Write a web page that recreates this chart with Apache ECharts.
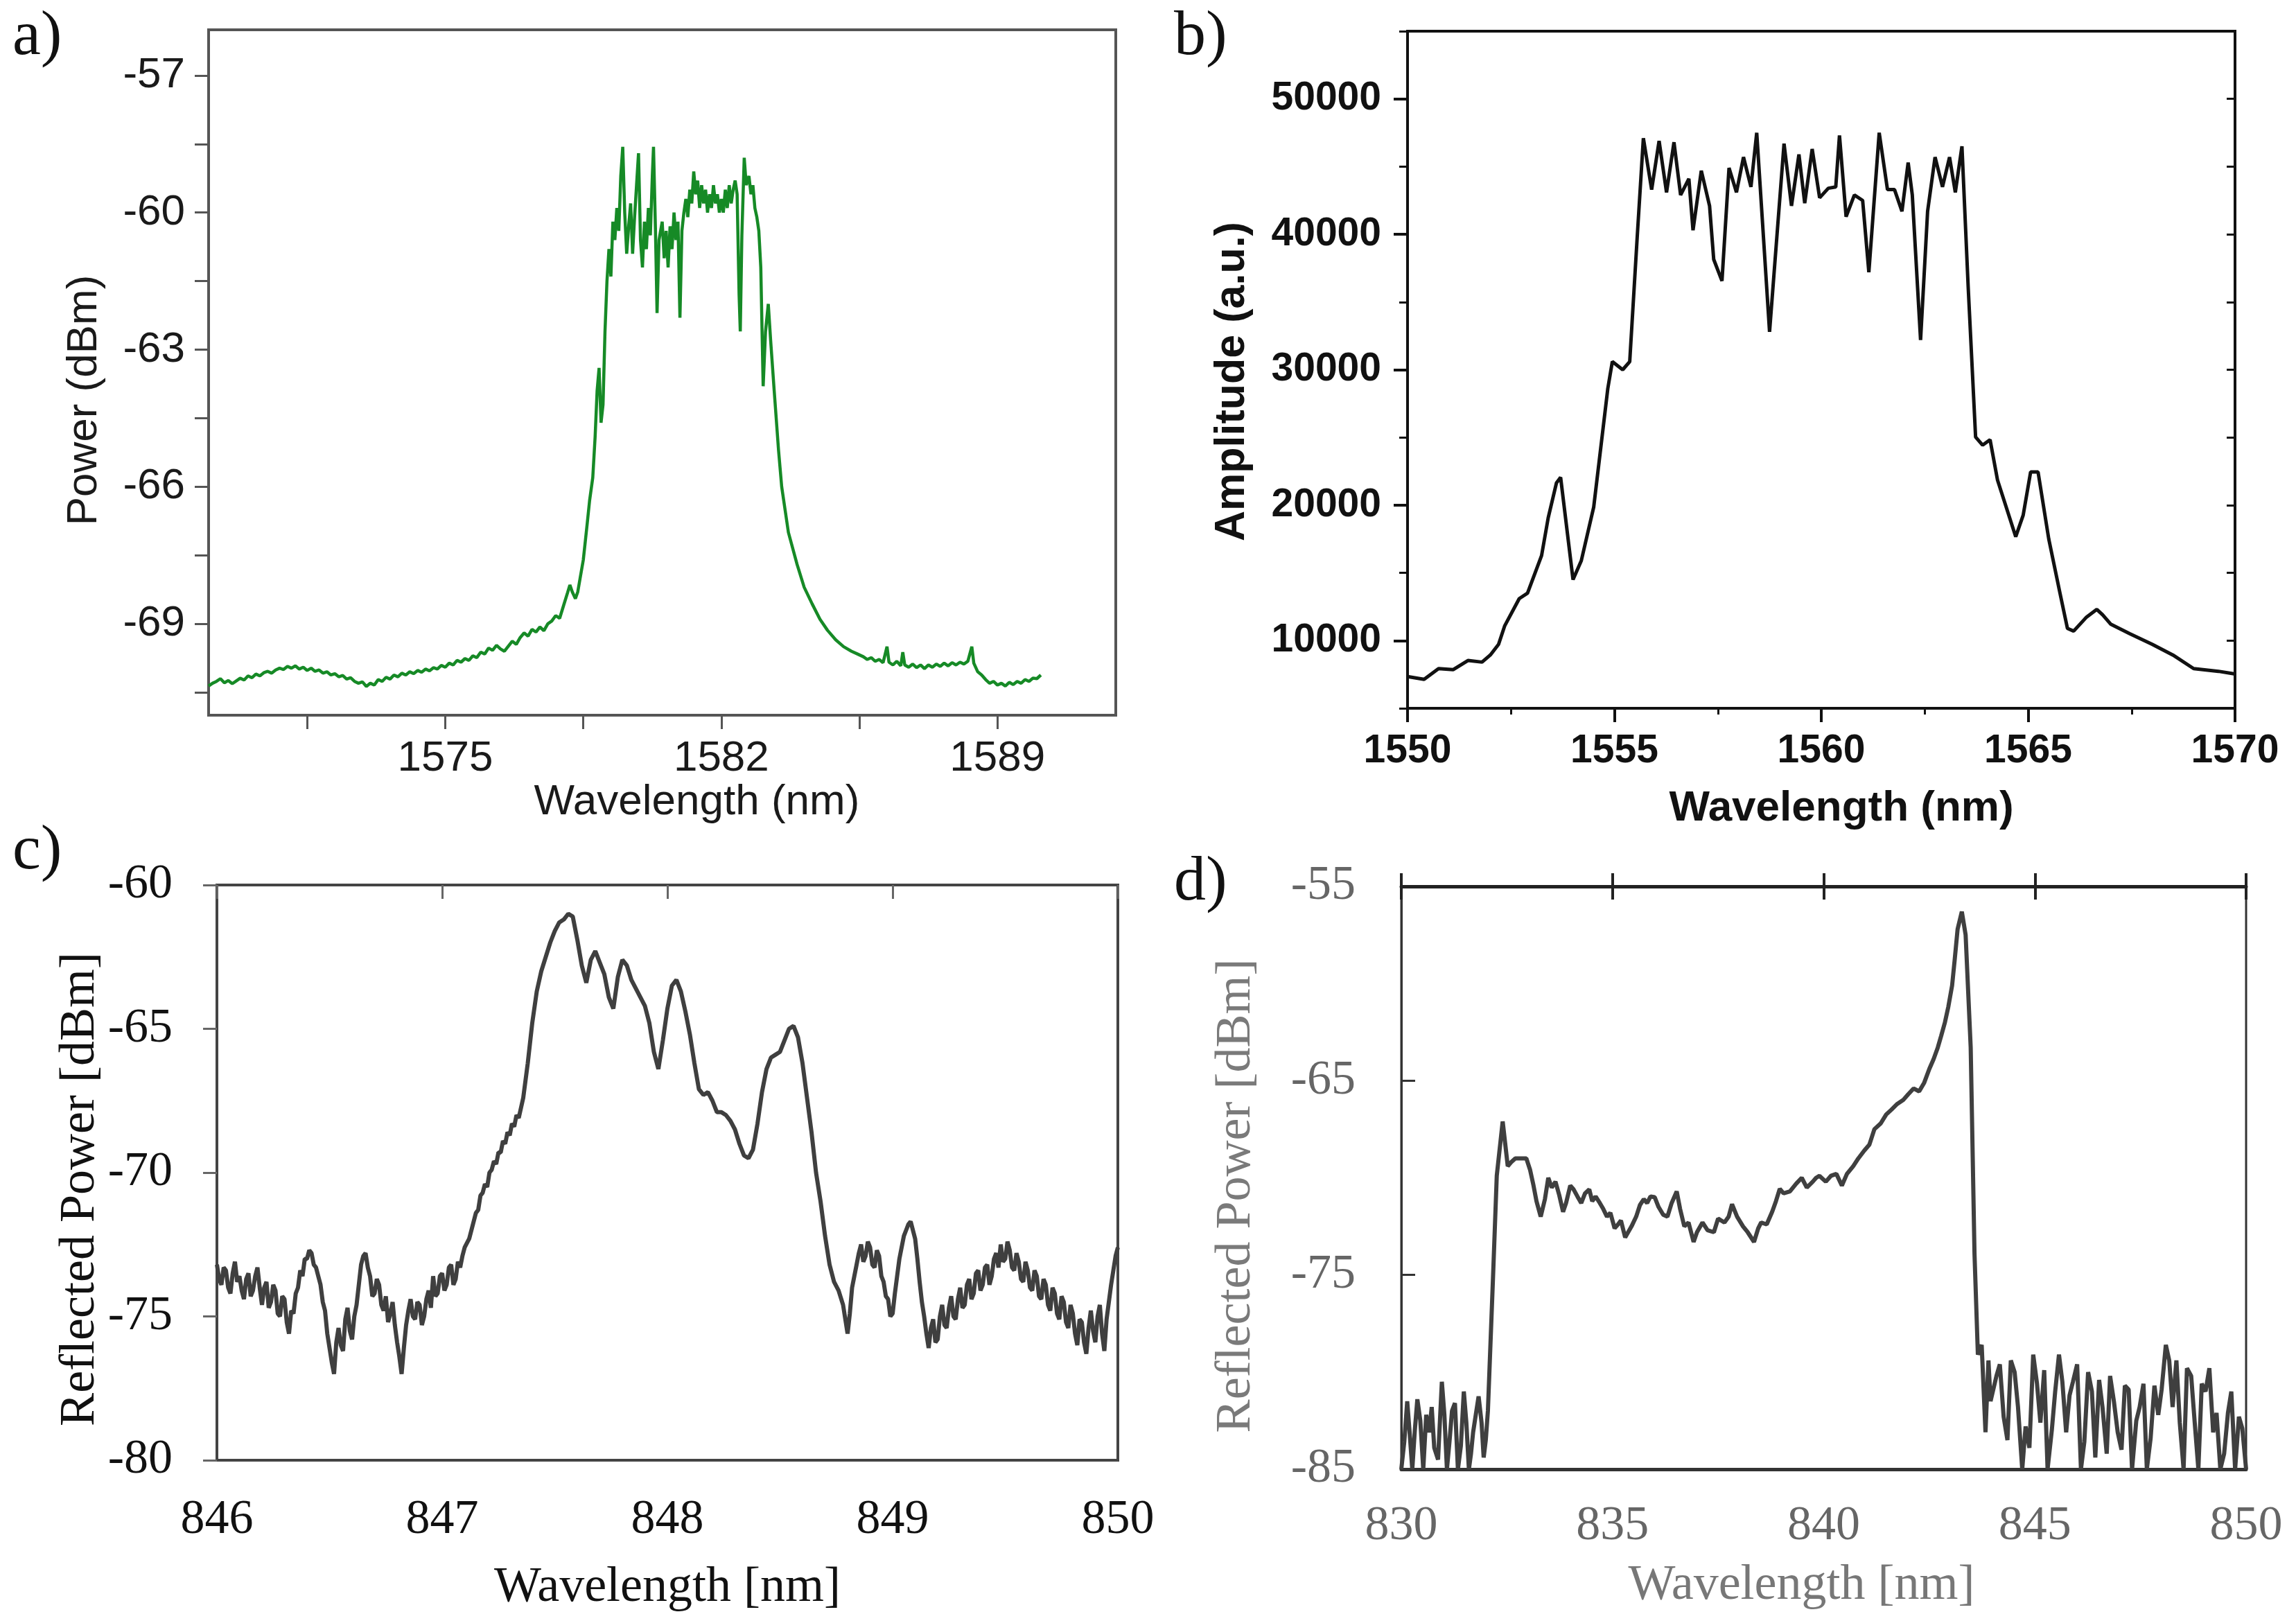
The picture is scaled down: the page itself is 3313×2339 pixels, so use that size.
<!DOCTYPE html>
<html><head><meta charset="utf-8">
<script src="https://cdn.jsdelivr.net/npm/echarts@6/dist/echarts.min.js"></script>
<style>html,body{margin:0;padding:0;background:#fff}#c{width:3313px;height:2339px}</style>
</head><body><div id="c"></div>
<script>
// ---------- Panel a ----------
const aTicksX = [1571.5, 1575, 1578.5, 1582, 1585.5, 1589];
const aLabelsX = [1575, 1582, 1589];
const aTicksY = [-70.5, -69, -67.5, -66, -64.5, -63, -61.5, -60, -58.5, -57];
const aLabelsY = [-69, -66, -63, -60, -57];
const spectrumA = [
[1569.0,-70.36],[1569.1,-70.30],[1569.2,-70.26],[1569.3,-70.20],[1569.4,-70.29],[1569.5,-70.24],[1569.6,-70.31],[1569.7,-70.25],[1569.8,-70.19],[1569.9,-70.23],
[1570.0,-70.14],[1570.1,-70.18],[1570.2,-70.10],[1570.3,-70.14],[1570.4,-70.07],[1570.5,-70.04],[1570.6,-70.08],[1570.7,-70.01],[1570.8,-69.97],[1570.9,-70.00],
[1571.0,-69.93],[1571.1,-69.97],[1571.2,-69.92],[1571.3,-69.99],[1571.4,-69.95],[1571.5,-70.02],[1571.6,-69.97],[1571.7,-70.04],[1571.8,-70.01],[1571.9,-70.08],
[1572.0,-70.05],[1572.1,-70.12],[1572.2,-70.09],[1572.3,-70.16],[1572.4,-70.13],[1572.5,-70.21],[1572.6,-70.18],[1572.7,-70.26],[1572.8,-70.30],[1572.9,-70.27],
[1573.0,-70.37],[1573.1,-70.30],[1573.2,-70.34],[1573.3,-70.22],[1573.4,-70.26],[1573.5,-70.17],[1573.6,-70.21],[1573.7,-70.12],[1573.8,-70.16],[1573.9,-70.08],
[1574.0,-70.12],[1574.1,-70.05],[1574.2,-70.09],[1574.3,-70.02],[1574.4,-70.06],[1574.5,-69.99],[1574.6,-70.03],[1574.7,-69.96],[1574.8,-69.99],[1574.9,-69.91],
[1575.0,-69.95],[1575.1,-69.86],[1575.2,-69.90],[1575.3,-69.80],[1575.4,-69.84],[1575.5,-69.76],[1575.6,-69.80],[1575.7,-69.70],[1575.8,-69.74],[1575.9,-69.62],
[1576.0,-69.66],[1576.1,-69.53],[1576.2,-69.58],[1576.3,-69.47],[1576.4,-69.55],[1576.5,-69.60],[1576.6,-69.49],[1576.7,-69.38],[1576.8,-69.45],[1576.9,-69.30],
[1577.0,-69.20],[1577.1,-69.27],[1577.2,-69.12],[1577.3,-69.18],[1577.4,-69.07],[1577.5,-69.15],[1577.6,-69.00],[1577.7,-68.94],[1577.8,-68.82],[1577.9,-68.88],
[1578.0,-68.60],[1578.1,-68.32],[1578.16,-68.15],[1578.22,-68.30],[1578.3,-68.45],[1578.36,-68.30],[1578.42,-68.00],[1578.5,-67.60],[1578.55,-67.20],[1578.6,-66.80],
[1578.66,-66.30],[1578.74,-65.80],[1578.8,-64.90],[1578.85,-63.90],[1578.9,-63.40],[1578.95,-64.60],[1579.0,-64.20],[1579.05,-62.60],[1579.1,-61.50],[1579.15,-60.80],
[1579.2,-61.40],[1579.25,-60.20],[1579.3,-60.60],[1579.35,-59.90],[1579.4,-60.40],[1579.45,-59.20],[1579.5,-58.56],[1579.55,-60.00],[1579.6,-60.90],[1579.65,-60.30],
[1579.7,-59.80],[1579.75,-60.90],[1579.8,-60.10],[1579.85,-59.40],[1579.9,-58.70],[1579.95,-60.60],[1580.0,-61.20],[1580.05,-60.20],[1580.1,-60.80],[1580.15,-59.90],
[1580.2,-60.50],[1580.25,-59.20],[1580.28,-58.56],[1580.33,-60.40],[1580.37,-62.20],[1580.42,-60.60],[1580.5,-60.20],[1580.55,-61.00],[1580.6,-60.40],[1580.65,-61.20],
[1580.7,-60.30],[1580.75,-60.80],[1580.8,-60.00],[1580.85,-60.60],[1580.9,-60.20],[1580.95,-62.30],[1581.0,-60.40],[1581.05,-60.00],[1581.1,-59.70],[1581.15,-60.10],
[1581.2,-59.50],[1581.25,-59.80],[1581.3,-59.10],[1581.35,-59.60],[1581.4,-59.30],[1581.45,-59.90],[1581.5,-59.40],[1581.55,-59.80],[1581.6,-59.50],[1581.65,-60.00],
[1581.7,-59.60],[1581.75,-59.90],[1581.8,-59.40],[1581.85,-59.80],[1581.9,-59.60],[1581.95,-60.00],[1582.0,-59.70],[1582.05,-60.00],[1582.1,-59.50],[1582.15,-59.90],
[1582.2,-59.40],[1582.25,-59.80],[1582.3,-59.50],[1582.35,-59.30],[1582.4,-59.60],[1582.45,-61.80],[1582.48,-62.60],[1582.52,-60.50],[1582.58,-58.80],[1582.63,-59.40],
[1582.7,-59.20],[1582.75,-59.60],[1582.8,-59.40],[1582.85,-59.90],[1582.9,-60.10],[1582.95,-60.40],[1583.0,-61.20],[1583.06,-63.80],[1583.12,-62.60],[1583.19,-62.00],
[1583.25,-62.80],[1583.34,-63.90],[1583.45,-65.20],[1583.53,-66.00],[1583.7,-67.00],[1583.92,-67.70],[1584.1,-68.20],[1584.3,-68.56],[1584.5,-68.90],[1584.69,-69.14],
[1584.9,-69.35],[1585.1,-69.50],[1585.3,-69.60],[1585.45,-69.66],[1585.6,-69.72],[1585.7,-69.78],[1585.8,-69.74],[1585.9,-69.82],[1586.0,-69.78],[1586.1,-69.85],
[1586.2,-69.50],[1586.25,-69.84],[1586.35,-69.90],[1586.45,-69.82],[1586.55,-69.92],[1586.6,-69.62],[1586.65,-69.90],[1586.75,-69.95],[1586.85,-69.88],[1586.95,-69.96],
[1587.05,-69.90],[1587.15,-69.98],[1587.25,-69.90],[1587.35,-69.95],[1587.45,-69.88],[1587.55,-69.93],[1587.65,-69.86],[1587.75,-69.92],[1587.85,-69.85],[1587.95,-69.90],
[1588.05,-69.84],[1588.15,-69.88],[1588.25,-69.82],[1588.35,-69.50],[1588.4,-69.86],[1588.5,-70.05],[1588.6,-70.12],[1588.7,-70.22],[1588.8,-70.30],[1588.9,-70.26],
[1589.0,-70.34],[1589.1,-70.30],[1589.2,-70.36],[1589.3,-70.28],[1589.4,-70.33],[1589.5,-70.26],[1589.6,-70.30],[1589.7,-70.22],[1589.8,-70.26],[1589.9,-70.19],
[1590.0,-70.20],[1590.1,-70.12]
];

// ---------- Panel b ----------
const bLabelsY = [10000, 20000, 30000, 40000, 50000];
const spectrumB = [
[1550.0,7340],[1550.4,7140],[1550.75,7930],[1551.1,7850],[1551.46,8530],[1551.8,8410],[1552.0,8930],[1552.2,9720],[1552.35,11100],[1552.7,13100],
[1552.9,13500],[1553.24,16280],[1553.4,19070],[1553.6,21650],[1553.7,22050],[1554.0,14500],[1554.2,15900],[1554.5,19860],[1554.84,28600],[1554.95,30600],
[1555.2,30000],[1555.37,30600],[1555.55,39740],[1555.7,47100],[1555.9,43300],[1556.08,46900],[1556.26,43100],[1556.44,46800],[1556.6,42900],[1556.8,44100],
[1556.9,40300],[1557.1,44700],[1557.3,42100],[1557.4,38150],[1557.6,36560],[1557.77,44900],[1557.95,43100],[1558.12,45700],[1558.3,43500],[1558.44,47500],
[1558.75,32800],[1559.1,46700],[1559.28,42100],[1559.46,45900],[1559.6,42300],[1559.78,46300],[1559.96,42700],[1560.17,43400],[1560.35,43500],[1560.44,47300],
[1560.6,41300],[1560.8,42900],[1561.0,42500],[1561.15,37200],[1561.4,47500],[1561.6,43300],[1561.77,43300],[1561.95,41700],[1562.1,45300],[1562.2,42900],
[1562.4,32200],[1562.57,41700],[1562.75,45700],[1562.93,43500],[1563.1,45700],[1563.24,43100],[1563.4,46500],[1563.55,36160],[1563.73,25030],[1563.9,24430],
[1564.08,24830],[1564.26,21850],[1564.7,17670],[1564.88,19260],[1565.06,22450],[1565.24,22450],[1565.5,17470],[1565.77,13500],[1565.95,10900],[1566.1,10700],
[1566.4,11700],[1566.66,12300],[1566.8,11900],[1567.0,11200],[1567.46,10500],[1568.0,9720],[1568.5,8930],[1569.0,7930],[1569.6,7730],[1570.0,7530]
];

// ---------- Panel c ----------
const spectrumC = [
[846.00,-73.2],[846.01,-73.7],[846.02,-73.9],[846.03,-73.3],[846.04,-73.4],[846.05,-74.0],[846.06,-74.2],[846.07,-73.5],[846.08,-73.1],[846.09,-73.8],
[846.10,-73.6],[846.11,-74.1],[846.12,-74.4],[846.13,-73.7],[846.14,-73.5],[846.15,-74.3],[846.16,-74.1],[846.17,-73.6],[846.18,-73.3],[846.19,-74.0],
[846.20,-74.6],[846.21,-74.0],[846.22,-73.8],[846.23,-74.7],[846.24,-74.5],[846.25,-73.9],[846.26,-74.1],[846.27,-74.9],[846.28,-75.0],[846.29,-74.3],
[846.30,-74.4],[846.31,-75.2],[846.32,-75.6],[846.33,-74.8],[846.34,-74.9],[846.35,-74.2],[846.36,-74.0],[846.37,-73.4],[846.38,-73.6],[846.39,-73.0],
[846.40,-73.0],[846.41,-72.7],[846.42,-72.8],[846.43,-73.2],[846.44,-73.3],[846.45,-73.6],[846.46,-73.9],[846.47,-74.5],[846.48,-74.8],[846.49,-75.6],
[846.50,-76.1],[846.51,-76.6],[846.52,-77.0],[846.53,-75.9],[846.54,-75.4],[846.55,-76.0],[846.56,-76.2],[846.57,-75.1],[846.58,-74.7],[846.59,-75.5],
[846.60,-75.8],[846.61,-75.0],[846.62,-74.6],[846.63,-73.9],[846.64,-73.2],[846.65,-72.9],[846.66,-72.8],[846.67,-73.3],[846.68,-73.6],[846.69,-74.3],
[846.70,-74.2],[846.71,-73.7],[846.72,-73.9],[846.73,-74.6],[846.74,-74.8],[846.75,-74.3],[846.76,-75.2],[846.77,-74.9],[846.78,-74.5],[846.79,-75.3],
[846.80,-75.9],[846.81,-76.4],[846.82,-77.0],[846.83,-76.1],[846.84,-75.3],[846.85,-74.8],[846.86,-74.4],[846.87,-75.0],[846.88,-75.1],[846.89,-74.5],
[846.90,-74.6],[846.91,-75.3],[846.92,-75.0],[846.93,-74.4],[846.94,-74.1],[846.95,-74.7],[846.96,-73.6],[846.97,-74.3],[846.98,-74.2],[846.99,-73.6],
[847.00,-73.5],[847.01,-74.1],[847.02,-73.9],[847.03,-73.3],[847.04,-73.2],[847.05,-73.9],[847.06,-73.7],[847.07,-73.1],[847.08,-73.3],[847.09,-72.9],
[847.10,-72.6],[847.12,-72.3],[847.13,-72.0],[847.14,-71.7],[847.15,-71.4],[847.16,-71.3],[847.17,-70.8],[847.18,-70.7],[847.19,-70.4],[847.20,-70.5],
[847.21,-70.0],[847.22,-69.9],[847.23,-69.6],[847.24,-69.7],[847.25,-69.3],[847.26,-69.3],[847.27,-68.9],[847.28,-69.0],[847.29,-68.6],[847.30,-68.7],
[847.31,-68.3],[847.32,-68.4],[847.33,-68.0],[847.34,-68.1],[847.36,-67.4],[847.38,-66.2],
[847.40,-64.8],[847.42,-63.7],[847.44,-63.0],[847.46,-62.5],[847.48,-62.0],[847.50,-61.6],[847.52,-61.3],[847.54,-61.2],[847.56,-61.0],[847.58,-61.1],
[847.60,-61.9],[847.62,-62.8],[847.64,-63.4],[847.66,-62.6],[847.68,-62.3],[847.70,-62.7],[847.72,-63.1],[847.74,-63.9],[847.76,-64.3],[847.78,-63.2],
[847.80,-62.6],[847.82,-62.8],[847.84,-63.3],[847.86,-63.6],[847.88,-63.9],[847.90,-64.2],[847.92,-64.8],[847.94,-65.8],[847.96,-66.4],[847.98,-65.4],
[848.00,-64.3],[848.02,-63.5],[848.04,-63.3],[848.06,-63.7],[848.08,-64.4],[848.10,-65.2],[848.12,-66.2],[848.14,-67.1],[848.16,-67.3],[848.18,-67.2],
[848.20,-67.5],[848.22,-67.9],[848.24,-67.9],[848.26,-68.0],[848.28,-68.2],[848.30,-68.5],[848.32,-69.0],[848.34,-69.4],[848.36,-69.5],[848.38,-69.2],
[848.40,-68.3],[848.42,-67.2],[848.44,-66.4],[848.46,-66.0],[848.48,-65.9],[848.50,-65.8],[848.52,-65.4],[848.54,-65.0],[848.56,-64.9],[848.58,-65.3],
[848.60,-66.2],[848.62,-67.4],[848.64,-68.6],[848.66,-70.0],[848.68,-71.0],[848.70,-72.2],[848.72,-73.2],[848.74,-73.8],[848.76,-74.1],[848.78,-74.6],
[848.80,-75.6],[848.81,-74.9],[848.82,-74.0],[848.83,-73.6],[848.84,-73.2],[848.85,-72.8],[848.86,-72.5],[848.87,-73.1],[848.88,-72.9],[848.89,-72.4],
[848.90,-72.6],[848.91,-73.2],[848.92,-73.3],[848.93,-72.7],[848.94,-72.9],[848.95,-73.6],[848.96,-73.8],[848.97,-74.3],[848.98,-74.4],[848.99,-75.0],
[849.00,-74.9],[849.01,-74.2],[849.02,-73.6],[849.03,-73.0],[849.04,-72.6],[849.05,-72.2],[849.06,-72.0],[849.07,-71.8],[849.08,-71.7],[849.09,-72.0],
[849.10,-72.3],[849.11,-73.0],[849.12,-73.8],[849.13,-74.5],[849.14,-75.0],[849.15,-75.6],[849.16,-76.1],[849.17,-75.4],[849.18,-75.1],[849.19,-75.9],
[849.20,-75.8],[849.21,-75.0],[849.22,-74.6],[849.23,-75.3],[849.24,-75.4],[849.25,-74.7],[849.26,-74.3],[849.27,-75.0],[849.28,-75.1],[849.29,-74.4],
[849.30,-74.0],[849.31,-74.7],[849.32,-74.6],[849.33,-73.9],[849.34,-73.7],[849.35,-74.4],[849.36,-74.2],[849.37,-73.5],[849.38,-73.4],[849.39,-74.1],
[849.40,-73.9],[849.41,-73.3],[849.42,-73.2],[849.43,-73.9],[849.44,-73.6],[849.45,-73.0],[849.46,-72.8],[849.47,-73.3],[849.48,-72.5],[849.49,-73.1],
[849.50,-73.0],[849.51,-72.4],[849.52,-72.7],[849.53,-73.3],[849.54,-73.4],[849.55,-72.8],[849.56,-73.1],[849.57,-73.7],[849.58,-73.8],[849.59,-73.1],
[849.60,-73.4],[849.61,-74.0],[849.62,-74.1],[849.63,-73.4],[849.64,-73.6],[849.65,-74.3],[849.66,-74.4],[849.67,-73.7],[849.68,-73.9],[849.69,-74.6],
[849.70,-74.8],[849.71,-74.0],[849.72,-74.2],[849.73,-74.9],[849.74,-75.1],[849.75,-74.3],[849.76,-74.5],[849.77,-75.2],[849.78,-75.4],[849.79,-74.6],
[849.80,-74.9],[849.81,-75.6],[849.82,-76.0],[849.83,-75.1],[849.84,-75.2],[849.85,-75.9],[849.86,-76.3],[849.87,-75.4],[849.88,-74.8],[849.89,-75.5],
[849.90,-75.9],[849.91,-75.0],[849.92,-74.6],[849.93,-75.6],[849.94,-76.2],[849.95,-75.1],[849.96,-74.5],[849.97,-73.9],[849.98,-73.4],[849.99,-72.9],
[850.00,-72.6]
];

// ---------- Panel d ----------
const dLabelsY = [-85, -75, -65, -55];
const dTicksY = [-75, -65];
const spectrumD = [
[830.0,-85],[830.07,-83.6],[830.14,-81.5],[830.2,-83.2],[830.26,-85],[830.32,-83.0],[830.38,-81.4],[830.45,-82.5],[830.52,-85],[830.59,-82.2],
[830.66,-83.1],[830.72,-81.8],[830.78,-83.9],[830.87,-84.5],[830.96,-80.5],[831.02,-82.2],[831.08,-85],[831.14,-83.6],[831.2,-82.0],[831.27,-81.6],
[831.34,-85],[831.41,-83.8],[831.48,-81.0],[831.54,-82.6],[831.6,-85],[831.65,-84.2],[831.7,-83.1],[831.77,-82.1],[831.83,-81.25],[831.9,-82.6],
[831.95,-84.4],[832.0,-83.5],[832.05,-82.0],[832.17,-75.2],[832.26,-69.9],[832.4,-67.1],[832.52,-69.4],[832.6,-69.2],[832.7,-69.0],[832.96,-69.0],
[833.05,-69.6],[833.13,-70.4],[833.2,-71.2],[833.3,-72.0],[833.4,-71.1],[833.48,-70.0],[833.56,-70.5],[833.65,-70.2],[833.74,-70.9],[833.83,-71.75],
[833.9,-71.3],[834.0,-70.4],[834.08,-70.6],[834.17,-70.96],[834.26,-71.3],[834.35,-70.8],[834.45,-70.6],[834.52,-71.2],[834.6,-70.96],[834.7,-71.3],
[834.78,-71.6],[834.87,-72.0],[834.95,-71.8],[835.05,-72.6],[835.13,-72.4],[835.2,-72.2],[835.3,-73.07],[835.45,-72.5],[835.56,-72.0],[835.65,-71.4],
[835.74,-71.1],[835.82,-71.3],[835.9,-70.96],[836.0,-71.0],[836.09,-71.5],[836.2,-71.9],[836.3,-72.0],[836.4,-71.3],[836.52,-70.7],[836.6,-71.6],
[836.7,-72.5],[836.8,-72.3],[836.92,-73.3],[837.0,-72.8],[837.13,-72.3],[837.25,-72.7],[837.4,-72.8],[837.5,-72.1],[837.65,-72.3],[837.75,-72.0],
[837.83,-71.36],[837.95,-72.0],[838.09,-72.5],[838.2,-72.8],[838.35,-73.3],[838.45,-72.6],[838.52,-72.3],[838.65,-72.4],[838.78,-71.75],[838.87,-71.2],
[838.96,-70.57],[839.05,-70.8],[839.2,-70.7],[839.35,-70.3],[839.48,-70.0],[839.6,-70.5],[839.74,-70.2],[839.82,-70.0],[839.9,-69.9],[840.05,-70.2],
[840.17,-69.9],[840.3,-69.8],[840.43,-70.4],[840.55,-69.8],[840.7,-69.4],[840.82,-69.0],[840.96,-68.6],[841.08,-68.3],[841.2,-67.5],[841.35,-67.2],
[841.48,-66.74],[841.6,-66.5],[841.74,-66.2],[841.88,-66.0],[842.0,-65.7],[842.13,-65.4],[842.26,-65.55],[842.38,-65.1],[842.5,-64.4],[842.6,-63.9],
[842.7,-63.3],[842.78,-62.7],[842.87,-62.0],[842.95,-61.2],[843.04,-60.1],[843.1,-58.8],[843.17,-57.2],[843.27,-56.3],[843.36,-57.5],[843.48,-63.3],
[843.57,-73.9],[843.65,-79.1],[843.74,-78.6],[843.83,-83.1],[843.9,-79.4],[843.95,-81.5],[844.09,-80.2],[844.17,-79.6],[844.26,-82.3],[844.35,-83.5],
[844.43,-79.4],[844.52,-80.0],[844.6,-81.8],[844.7,-85],[844.78,-82.8],[844.87,-83.9],[844.96,-79.1],[845.05,-80.6],[845.13,-82.6],[845.22,-79.9],
[845.3,-85],[845.4,-83.0],[845.48,-81.0],[845.57,-79.1],[845.65,-80.5],[845.74,-83.1],[845.82,-81.2],[845.9,-80.5],[846.0,-79.6],[846.09,-85],
[846.17,-83.6],[846.26,-80.0],[846.35,-81.0],[846.43,-84.4],[846.52,-80.4],[846.6,-81.8],[846.7,-84.2],[846.78,-80.2],[846.87,-81.5],[846.96,-83.1],
[847.05,-84.0],[847.13,-80.7],[847.22,-80.9],[847.3,-85],[847.4,-82.5],[847.48,-81.8],[847.57,-80.6],[847.65,-85],[847.74,-83.4],[847.83,-80.7],
[847.92,-82.2],[848.0,-80.9],[848.1,-78.6],[848.18,-79.4],[848.26,-81.8],[848.35,-79.4],[848.43,-82.6],[848.52,-85],[848.6,-79.8],[848.7,-80.2],
[848.78,-82.5],[848.87,-85],[848.95,-80.6],[849.04,-81.0],[849.13,-79.8],[849.22,-83.1],[849.3,-82.1],[849.39,-85],[849.48,-84.2],[849.57,-82.1],
[849.65,-81.0],[849.74,-85],[849.83,-82.3],[849.91,-82.9],[850.0,-85]
];

const SANS = 'Liberation Sans';
const SERIF = 'Liberation Serif';
const plain = v => String(v);

const chart = echarts.init(document.getElementById('c'), null, {renderer: 'canvas'});
const option = {
  animation: false,
  backgroundColor: '#ffffff',
  grid: [
    {left: 301, top: 43, width: 1309, height: 989, show: true, borderColor: '#555', borderWidth: 4, backgroundColor: 'transparent', outerBoundsMode: 'none'},
    {left: 2031, top: 45, width: 1194, height: 977, show: true, borderColor: '#111', borderWidth: 4, backgroundColor: 'transparent', outerBoundsMode: 'none'},
    {left: 313, top: 1277, width: 1300, height: 830, show: true, borderColor: '#444', borderWidth: 4, backgroundColor: 'transparent', outerBoundsMode: 'none'},
    {left: 2022, top: 1279, width: 1219, height: 841, show: true, borderColor: '#333', borderWidth: 3, backgroundColor: 'transparent', outerBoundsMode: 'none'}
  ],
  xAxis: [
    // 0: a bottom
    {gridIndex: 0, type: 'value', position: 'bottom', min: 1569, max: 1592,
     axisLine: {show: true, lineStyle: {color: '#555', width: 4}},
     axisTick: {show: true, inside: false, length: 20, customValues: aTicksX, lineStyle: {color: '#555', width: 3}},
     axisLabel: {customValues: aLabelsX, formatter: plain, fontSize: 62, fontFamily: SANS, color: '#1a1a1a', margin: 32},
     splitLine: {show: false},
     name: 'Wavelength (nm)', nameLocation: 'middle', nameGap: 92,
     nameTextStyle: {fontSize: 62, fontFamily: SANS, color: '#1a1a1a', padding: [0, 0, 0, 100]}},
    // 1: b bottom
    {gridIndex: 1, type: 'value', position: 'bottom', min: 1550, max: 1570, interval: 5,
     axisLine: {show: true, lineStyle: {color: '#111', width: 4}},
     axisTick: {show: true, inside: false, length: 20, lineStyle: {color: '#111', width: 4}},
     minorTick: {show: true, splitNumber: 2, length: 9, lineStyle: {color: '#111', width: 3}},
     axisLabel: {formatter: plain, fontSize: 57, fontWeight: 'bold', fontFamily: SANS, color: '#111', margin: 34},
     splitLine: {show: false}, minorSplitLine: {show: false},
     name: 'Wavelength (nm)', nameLocation: 'middle', nameGap: 114,
     nameTextStyle: {fontSize: 62, fontWeight: 'bold', fontFamily: SANS, color: '#111', padding: [0, 0, 0, 58]}},
    // 2: c bottom
    {gridIndex: 2, type: 'value', position: 'bottom', min: 846, max: 850, interval: 1,
     axisLine: {show: true, lineStyle: {color: '#444', width: 4}},
     axisTick: {show: false},
     axisLabel: {formatter: plain, fontSize: 70, fontFamily: SERIF, color: '#111', margin: 52},
     splitLine: {show: false},
     name: 'Wavelength [nm]', nameLocation: 'middle', nameGap: 148,
     nameTextStyle: {fontSize: 72, fontFamily: SERIF, color: '#111'}},
    // 3: c top ticks
    {gridIndex: 2, type: 'value', position: 'top', min: 846, max: 850, interval: 1,
     axisLine: {show: true, lineStyle: {color: '#444', width: 4}},
     axisTick: {show: true, inside: true, length: 20, lineStyle: {color: '#666', width: 3}},
     axisLabel: {show: false}, splitLine: {show: false}},
    // 4: d bottom
    {gridIndex: 3, type: 'value', position: 'bottom', min: 830, max: 850, interval: 5,
     axisLine: {show: true, lineStyle: {color: '#333', width: 5}},
     axisTick: {show: false},
     axisLabel: {formatter: plain, fontSize: 70, fontFamily: SERIF, color: '#666', margin: 48},
     splitLine: {show: false},
     name: 'Wavelength [nm]', nameLocation: 'middle', nameGap: 132,
     nameTextStyle: {fontSize: 72, fontFamily: SERIF, color: '#777', padding: [0, 64, 0, 0]}},
    // 5: d top, inner ticks
    {gridIndex: 3, type: 'value', position: 'top', min: 830, max: 850, interval: 5,
     axisLine: {show: true, lineStyle: {color: '#222', width: 5}},
     axisTick: {show: true, inside: true, length: 19, lineStyle: {color: '#222', width: 4}},
     axisLabel: {show: false}, splitLine: {show: false}},
    // 6: d top, outer ticks
    {gridIndex: 3, type: 'value', position: 'top', min: 830, max: 850, interval: 5,
     axisLine: {show: false},
     axisTick: {show: true, inside: false, length: 19, lineStyle: {color: '#222', width: 4}},
     axisLabel: {show: false}, splitLine: {show: false}}
  ],
  yAxis: [
    // 0: a left
    {gridIndex: 0, type: 'value', position: 'left', min: -71, max: -56,
     axisLine: {show: true, lineStyle: {color: '#555', width: 4}},
     axisTick: {show: true, inside: false, length: 20, customValues: aTicksY, lineStyle: {color: '#555', width: 3}},
     axisLabel: {customValues: aLabelsY, formatter: plain, fontSize: 62, fontFamily: SANS, color: '#1a1a1a', margin: 34},
     splitLine: {show: false},
     name: 'Power (dBm)', nameLocation: 'middle', nameGap: 148,
     nameTextStyle: {fontSize: 62, fontFamily: SANS, color: '#1a1a1a', padding: [0, 80, 0, 0]}},
    // 1: b left major
    {gridIndex: 1, type: 'value', position: 'left', min: 5000, max: 55000,
     axisLine: {show: true, lineStyle: {color: '#111', width: 4}},
     axisTick: {show: true, inside: false, length: 20, customValues: bLabelsY, lineStyle: {color: '#111', width: 4}},
     axisLabel: {customValues: bLabelsY, formatter: plain, fontSize: 57, fontWeight: 'bold', fontFamily: SANS, color: '#111', margin: 38},
     splitLine: {show: false},
     name: 'Amplitude (a.u.)', nameLocation: 'middle', nameGap: 222,
     nameTextStyle: {fontSize: 61, fontWeight: 'bold', fontFamily: SANS, color: '#111', padding: [0, 34, 0, 0]}},
    // 2: b left minor ticks
    {gridIndex: 1, type: 'value', position: 'left', min: 5000, max: 55000, interval: 5000,
     axisLine: {show: false},
     axisTick: {show: true, inside: false, length: 12, lineStyle: {color: '#111', width: 3}},
     axisLabel: {show: false}, splitLine: {show: false}},
    // 3: b right ticks
    {gridIndex: 1, type: 'value', position: 'right', min: 5000, max: 55000, interval: 5000,
     axisLine: {show: true, lineStyle: {color: '#111', width: 4}},
     axisTick: {show: true, inside: true, length: 12, lineStyle: {color: '#111', width: 3}},
     axisLabel: {show: false}, splitLine: {show: false}},
    // 4: c left
    {gridIndex: 2, type: 'value', position: 'left', min: -80, max: -60, interval: 5,
     axisLine: {show: true, lineStyle: {color: '#444', width: 4}},
     axisTick: {show: true, inside: false, length: 20, lineStyle: {color: '#666', width: 3}},
     axisLabel: {formatter: plain, fontSize: 70, fontFamily: SERIF, color: '#111', margin: 64},
     splitLine: {show: false},
     name: 'Reflected Power [dBm]', nameLocation: 'middle', nameGap: 146,
     nameTextStyle: {fontSize: 72, fontFamily: SERIF, color: '#111', padding: [0, 48, 0, 0]}},
    // 5: d left
    {gridIndex: 3, type: 'value', position: 'left', min: -85, max: -55,
     axisLine: {show: true, lineStyle: {color: '#333', width: 3}},
     axisTick: {show: true, inside: true, length: 20, customValues: dTicksY, lineStyle: {color: '#333', width: 3}},
     axisLabel: {customValues: dLabelsY, formatter: plain, fontSize: 70, fontFamily: SERIF, color: '#666', margin: 66},
     splitLine: {show: false},
     name: 'Reflected Power [dBm]', nameLocation: 'middle', nameGap: 202,
     nameTextStyle: {fontSize: 72, fontFamily: SERIF, color: '#7a7a7a', padding: [0, 52, 0, 0]}}
  ],
  series: [
    {type: 'line', xAxisIndex: 0, yAxisIndex: 0, data: spectrumA, showSymbol: false, clip: true,
     lineStyle: {color: '#168a26', width: 4.5}},
    {type: 'line', xAxisIndex: 1, yAxisIndex: 1, data: spectrumB, showSymbol: false, clip: true,
     lineStyle: {color: '#111', width: 5}},
    {type: 'line', xAxisIndex: 2, yAxisIndex: 4, data: spectrumC, showSymbol: false, clip: true,
     lineStyle: {color: '#3f3f3f', width: 6}},
    {type: 'line', xAxisIndex: 4, yAxisIndex: 5, data: spectrumD, showSymbol: false, clip: true,
     lineStyle: {color: '#3f3f3f', width: 6}}
  ],
  graphic: [
    {type: 'text', left: 18, top: 8, style: {text: 'a)', font: '92px "Liberation Serif"', fill: '#111'}},
    {type: 'text', left: 1694, top: 8, style: {text: 'b)', font: '92px "Liberation Serif"', fill: '#111'}},
    {type: 'text', left: 18, top: 1183, style: {text: 'c)', font: '92px "Liberation Serif"', fill: '#111'}},
    {type: 'text', left: 1694, top: 1228, style: {text: 'd)', font: '92px "Liberation Serif"', fill: '#111'}}
  ]
};
chart.setOption(option);
</script></body></html>
